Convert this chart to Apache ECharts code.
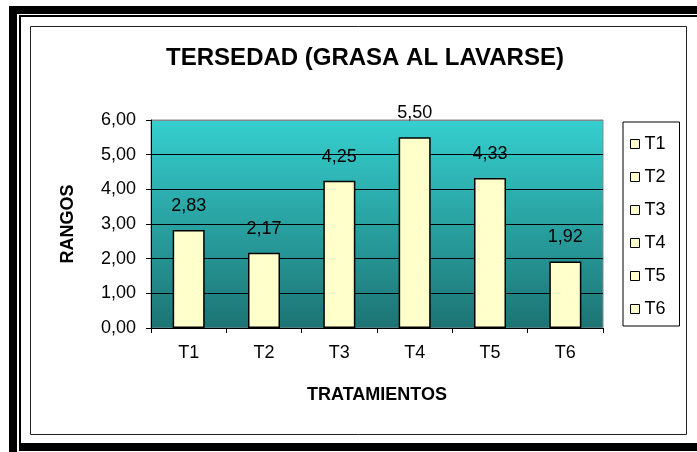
<!DOCTYPE html>
<html>
<head>
<meta charset="utf-8">
<script src="https://cdn.jsdelivr.net/npm/echarts@6/dist/echarts.min.js"></script>
<style>
  html, body { margin: 0; padding: 0; background: #fff; }
  #chart { width: 697px; height: 452px; }
</style>
</head>
<body>
<div id="chart"></div>
<script>
// datos del grafico
var tratamientos = ['T1', 'T2', 'T3', 'T4', 'T5', 'T6'];
var rangos = [2.83, 2.17, 4.25, 5.50, 4.33, 1.92];
var yTicks = [0, 1, 2, 3, 4, 5, 6];

var FONT = '"Liberation Sans", Arial, sans-serif';

function coma(v) {
    return Number(v).toFixed(2).replace('.', ',');
}

//una serie por tratamiento, apiladas para que cada barra quede centrada
var series = tratamientos.map(function (t, i) {
    var d = tratamientos.map(function (c, j) { return j === i ? rangos[i] : null; });
    return {
        name: t,
        type: 'bar',
        stack: 'total',
        barWidth: 32,
        data: d,
        itemStyle: { color: '#FFFFCC', borderColor: '#000', borderWidth: 1.5 },
        label: {
            show: true,
            position: 'top',
            distance: 15,
            fontFamily: FONT,
            fontSize: 18,
            color: '#000',
            formatter: function (p) { return p.value == null ? '' : coma(p.value); }
        }
    };
});

var chart = echarts.init(document.getElementById('chart'));

var option = {
    animation: false,
    textStyle: { fontFamily: FONT, color: '#000' },
    title: {
        text: 'TERSEDAD (GRASA AL LAVARSE)',
        left: 360,
        top: 41,
        textAlign: 'center',
        textStyle: { fontFamily: FONT, fontSize: 24, fontWeight: 'bold', color: '#000' }
    },
    legend: {
        orient: 'vertical',
        left: 623,
        top: 122,
        padding: [13, 14, 8, 7],
        itemGap: 15,
        itemWidth: 9,
        itemHeight: 9,
        icon: 'rect',
        borderColor: '#000',
        borderWidth: 1,
        data: tratamientos,
        itemStyle: { color: '#FFFFCC', borderColor: '#000', borderWidth: 1 },
        textStyle: { fontFamily: FONT, fontSize: 18, color: '#000' }
    },
    grid: {
        left: 151,
        right: 94,
        top: 120,
        bottom: 124,
        show: true,
        borderColor: '#888',
        borderWidth: 1,
        backgroundColor: new echarts.graphic.LinearGradient(0, 0, 0, 1, [
            { offset: 0, color: '#36CFCF' },
            { offset: 1, color: '#1D7373' }
        ])
    },
    xAxis: {
        type: 'category',
        data: tratamientos,
        name: 'TRATAMIENTOS',
        nameLocation: 'middle',
        nameGap: 58,
        nameTextStyle: { fontFamily: FONT, fontSize: 18, fontWeight: 'bold', color: '#000' },
        axisLine: { lineStyle: { color: '#000', width: 1 } },
        axisTick: { show: true, length: 5, lineStyle: { color: '#000' } },
        axisLabel: { fontFamily: FONT, fontSize: 18, color: '#000', margin: 16 }
    },
    yAxis: {
        type: 'value',
        min: yTicks[0],
        max: yTicks[yTicks.length - 1],
        interval: 1,
        name: 'RANGOS',
        nameLocation: 'middle',
        nameGap: 74,
        nameRotate: 90,
        nameTextStyle: { fontFamily: FONT, fontSize: 18, fontWeight: 'bold', color: '#000' },
        axisLine: { show: true, lineStyle: { color: '#000', width: 1 } },
        axisTick: { show: true, length: 5, lineStyle: { color: '#000' } },
        axisLabel: { fontFamily: FONT, fontSize: 18, color: '#000', margin: 15, formatter: coma },
        splitLine: {
            show: true,
            lineStyle: { color: ['#000', '#000', '#000', '#000', '#000', '#000', '#888'], width: 1 }
        }
    },
    series: series,
    graphic: [
        // marco exterior
        { type: 'rect', shape: { x: 9, y: 6, width: 688, height: 8 }, style: { fill: '#000' }, silent: true },
        { type: 'rect', shape: { x: 9, y: 6, width: 8, height: 446 }, style: { fill: '#000' }, silent: true },
        { type: 'rect', shape: { x: 19, y: 15, width: 678, height: 2 }, style: { fill: '#000' }, silent: true },
        { type: 'rect', shape: { x: 19, y: 15, width: 2, height: 428 }, style: { fill: '#000' }, silent: true },
        { type: 'rect', shape: { x: 19, y: 443, width: 678, height: 8 }, style: { fill: '#000' }, silent: true },
        // marco interior
        { type: 'rect', shape: { x: 30.5, y: 26.5, width: 656, height: 408 }, style: { fill: 'none', stroke: '#222', lineWidth: 1 }, silent: true }
    ]
};

chart.setOption(option);
</script>
</body>
</html>
